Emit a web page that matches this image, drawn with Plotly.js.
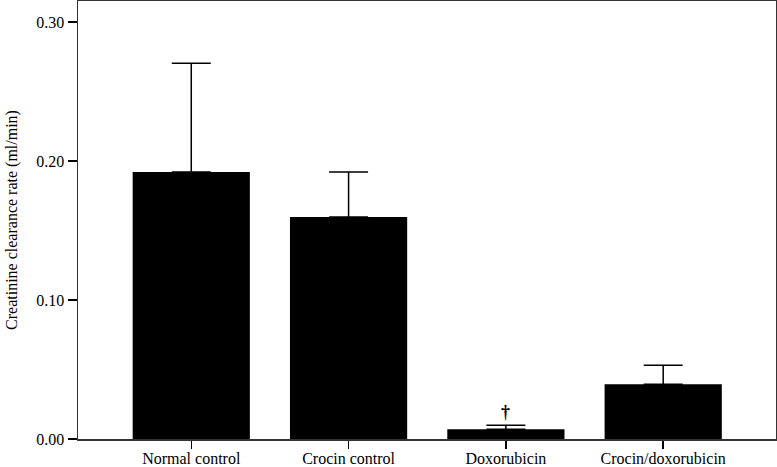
<!DOCTYPE html>
<html>
<head>
<meta charset="utf-8">
<script src="https://cdn.plot.ly/plotly-3.0.1.min.js"></script>
<style>
  body { margin: 0; background: #fff; }
  #chart { width: 777px; height: 467px; }
</style>
</head>
<body>
<div id="chart"></div>
<script>
// Group names and values (ml/min)
const groups = ['Normal control', 'Crocin control', 'Doxorubicin', 'Crocin/doxorubicin'];
const clearance = [0.192, 0.1597, 0.0070, 0.0394];
const errUpper = [0.0784, 0.0324, 0.0029, 0.0136];
const errLower = [0, 0, 0, 0];
const yTicks = [0, 0.1, 0.2, 0.3];
const yTickText = ['0.00', '0.10', '0.20', '0.30'];

const serif = 'Liberation Serif, Times New Roman, serif';

const trace = {
  x: groups,
  y: clearance,
  type: 'bar',
  width: 0.745,
  marker: { color: '#000', line: { width: 0 } },
  error_y: {
    type: 'data',
    symmetric: false,
    array: errUpper,
    arrayminus: errLower,
    color: '#000',
    thickness: 1.5,
    width: 19.5
  },
  hoverinfo: 'none'
};

const layout = {
  width: 777,
  height: 467,
  margin: { l: 78, r: 1, t: 1, b: 28 },
  paper_bgcolor: '#fff',
  plot_bgcolor: '#fff',
  showlegend: false,
  font: { family: serif, size: 16, color: '#000' },
  xaxis: {
    type: 'category',
    range: [-0.72, 3.717],
    showline: true,
    linecolor: '#333',
    linewidth: 1.5,
    mirror: true,
    ticks: 'outside',
    ticklen: 8,
    tickwidth: 1.5,
    tickcolor: '#000',
    ticklabelstandoff: -4,
    showgrid: false,
    zeroline: false,
    tickfont: { family: serif, size: 16 }
  },
  yaxis: {
    range: [0, 0.3151],
    tickvals: yTicks,
    ticktext: yTickText,
    showline: true,
    linecolor: '#333',
    linewidth: 1.5,
    mirror: true,
    ticks: 'outside',
    ticklen: 9,
    tickwidth: 1.5,
    tickcolor: '#000',
    showgrid: false,
    zeroline: false,
    tickfont: { family: serif, size: 16 },
    title: {
      text: 'Creatinine clearance rate (ml/min)',
      font: { family: serif, size: 16 },
      standoff: 14
    }
  },
  annotations: [{
    x: groups[2],
    y: clearance[2] + errUpper[2],
    yanchor: 'bottom',
    yshift: 1,
    text: '<b>†</b>',
    showarrow: false,
    font: { family: serif, size: 18, color: '#000' }
  }]
};

Plotly.newPlot('chart', [trace], layout, { displayModeBar: false, staticPlot: true });
</script>
</body>
</html>
